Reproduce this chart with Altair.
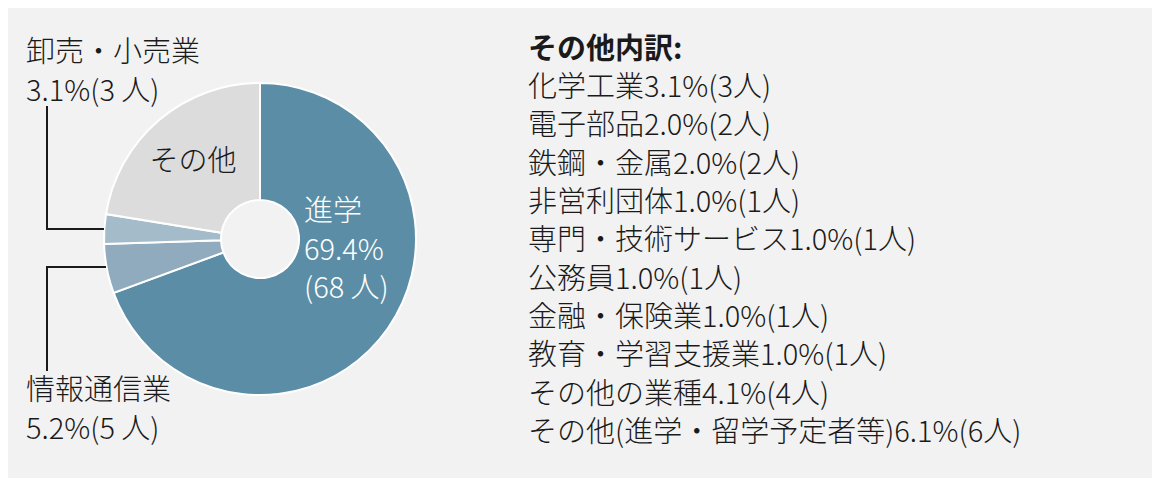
import altair as alt
import pandas as pd

# ---- data ----
categories = ["進学", "情報通信業", "卸売・小売業", "その他"]
counts = [68, 5, 3, 22]
percents = [69.4, 5.2, 3.1, 22.4]
slice_colors = ["#5b8ea6", "#8fabbd", "#a4bbc9", "#dcdcdc"]

other_names = ["化学工業", "電子部品", "鉄鋼・金属", "非営利団体", "専門・技術サービス",
               "公務員", "金融・保険業", "教育・学習支援業", "その他の業種",
               "その他(進学・留学予定者等)"]
other_pcts = [3.1, 2.0, 2.0, 1.0, 1.0, 1.0, 1.0, 1.0, 4.1, 6.1]
other_counts = [3, 2, 2, 1, 1, 1, 1, 1, 4, 6]
other_title = "その他内訳:"

# ---- layout / style ----
M = 8  # page margin
FONT = "Noto Sans CJK JP"
FS = 29
WEIGHT = 300
INK = "#1a1a1a"
CX, CY = 260, 239
LH = 38.5

pie_df = pd.DataFrame({"cat": categories, "count": counts, "order": list(range(len(categories)))})

arc = alt.Chart(pie_df).mark_arc(
    outerRadius=156, innerRadius=39, stroke="white", strokeWidth=2
).encode(
    theta=alt.Theta("count:Q"),
    order=alt.Order("order:Q"),
    color=alt.Color("cat:N", scale=alt.Scale(domain=categories, range=slice_colors), legend=None),
    x=alt.value(CX - M),
    y=alt.value(CY - M),
)


def label(text, x, y, color=INK, align="left", weight=WEIGHT, line_height=LH):
    # y is the middle of the first line
    return alt.Chart(pd.DataFrame({"t": [text]})).mark_text(
        align=align, baseline="middle", font=FONT, fontSize=FS, fontWeight=weight,
        color=color, lineBreak="\n", lineHeight=line_height
    ).encode(text="t:N", x=alt.value(x - M), y=alt.value(y - M))


def rule(x1, y1, x2, y2):
    return alt.Chart(pd.DataFrame({"a": [0]})).mark_rule(
        color=INK, strokeWidth=2, strokeCap="square"
    ).encode(x=alt.value(x1 - M), x2=alt.value(x2 - M), y=alt.value(y1 - M), y2=alt.value(y2 - M))


def pct_label(i):
    return f"{percents[i]:.1f}%({counts[i]} 人)"


labels = [
    label(f"{categories[2]}\n{pct_label(2)}", 26, 53),
    label(f"{categories[1]}\n{pct_label(1)}", 26, 391),
    label(categories[3], 193, 162, align="center"),
    label(f"{categories[0]}\n{percents[0]:.1f}%\n({counts[0]} 人)", 304, 212, color="white"),
]

leaders = [
    rule(47, 107, 47, 229),
    rule(47, 229, 103, 229),
    rule(47, 267, 105, 267),
    rule(47, 267, 47, 370),
]

list_df = pd.DataFrame({
    "t": [f"{n}{p:.1f}%({c}人)" for n, p, c in zip(other_names, other_pcts, other_counts)],
    "row": list(range(len(other_names))),
})

other_list = alt.Chart(list_df).mark_text(
    align="left", baseline="middle", font=FONT, fontSize=FS, fontWeight=WEIGHT, color=INK
).encode(
    text="t:N",
    x=alt.value(528 - M),
    y=alt.Y("row:Q", scale=alt.Scale(domain=[0, 9], range=[88 - M, 433 - M]), axis=None),
)

title = label(other_title, 528, 50, weight="bold")

chart = alt.layer(arc, *leaders, *labels, title, other_list).properties(
    width=1144, height=470, padding=0,
    autosize=alt.AutoSizeParams(type="none"),
    background="#f2f2f2",
).configure_view(stroke=None)

chart.save("out.html", embed_options={"renderer": "svg", "actions": False})
